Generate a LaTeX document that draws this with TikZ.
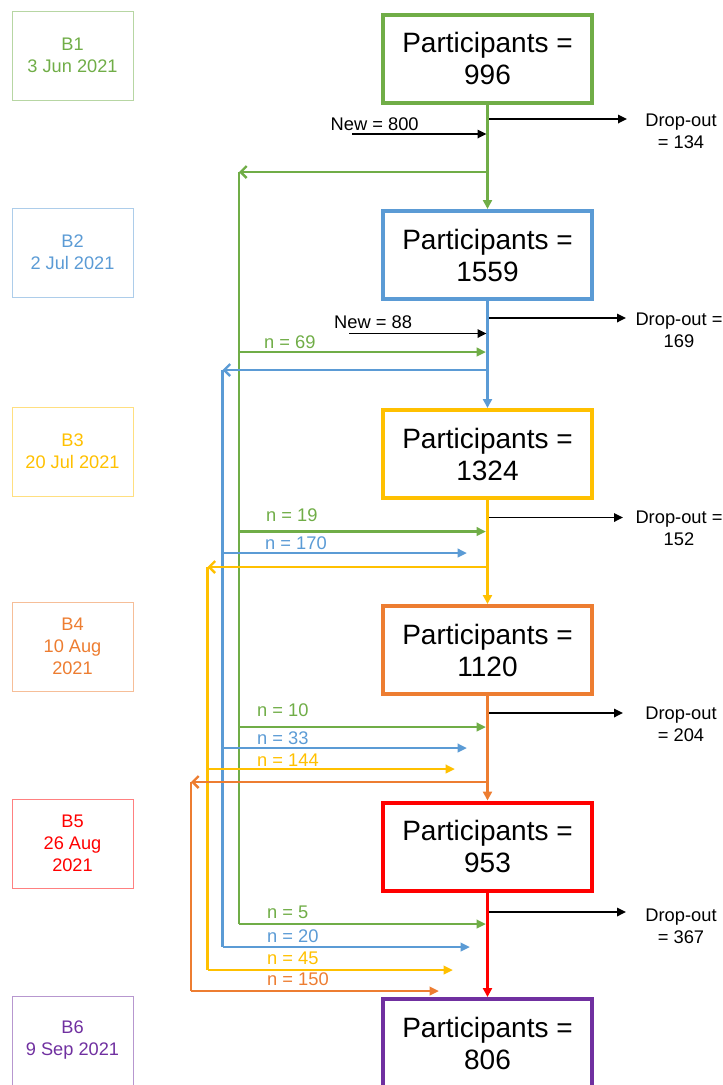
\documentclass[tikz,border=0pt]{standalone}
\usepackage{fontspec}
\setmainfont{Liberation Sans}
\usetikzlibrary{arrows.meta,calc}
\definecolor{cg}{HTML}{70AD47}
\definecolor{cb}{HTML}{5B9BD5}
\definecolor{cy}{HTML}{FFC000}
\definecolor{co}{HTML}{ED7D31}
\definecolor{cr}{HTML}{FF0000}
\definecolor{cp}{HTML}{7030A0}
\begin{document}
\begin{tikzpicture}[x=1pt,y=-1pt,
  mainbox/.style={draw, line width=4pt, minimum width=209pt, minimum height=88pt, align=center, inner sep=0pt, font=\fontsize{28}{32}\selectfont},
  datebox/.style={draw, line width=1pt, minimum width=121pt, minimum height=89pt, align=center, inner sep=0pt, font=\fontsize{18.2}{22}\selectfont},
  lbl/.style={anchor=west, inner sep=0pt, font=\fontsize{18.3}{21}\selectfont},
  dropt/.style={align=center, inner sep=0pt, font=\fontsize{18.3}{22}\selectfont},
  flow/.style={line width=2.4pt},
  dn/.style={flow, -{Triangle[length=9pt,width=9pt]}},
  back/.style={flow, -{Straight Barb[length=6pt,width=12pt]}},
  branch/.style={flow, -{Triangle[length=9.5pt,width=8.5pt]}},
  blk/.style={line width=1.7pt, black, -{Triangle[length=9pt,width=8.5pt]}}
]
\useasboundingbox (0,0) rectangle (723,1085);

% date boxes
\node[datebox, draw=cg!50, text=cg] (d1) at (72.5,55.5) {B1\\3 Jun 2021};
\node[datebox, draw=cb!50, text=cb] (d2) at (72.5,252.5) {B2\\2 Jul 2021};
\node[datebox, draw=cy!50, text=cy] (d3) at (72.5,451.5) {B3\\20 Jul 2021};
\node[datebox, draw=co!50, text=co] (d4) at (72.5,646.5) {B4\\10 Aug\\2021};
\node[datebox, draw=cr!50, text=cr] (d5) at (72.5,843.5) {B5\\26 Aug\\2021};
\node[datebox, draw=cp!50, text=cp] (d6) at (72.5,1040.5) {B6\\9 Sep 2021};

% main boxes
\node[mainbox, draw=cg] (m1) at (487.5,58.5) {Participants =\\996};
\node[mainbox, draw=cb] (m2) at (487.5,255) {Participants =\\1559};
\node[mainbox, draw=cy] (m3) at (487.5,454) {Participants =\\1324};
\node[mainbox, draw=co] (m4) at (487.5,650) {Participants =\\1120};
\node[mainbox, draw=cr] (m5) at (487.5,846.5) {Participants =\\953};
\node[mainbox, draw=cp] (m6) at (487.5,1043) {Participants =\\806};

% main downward flow
\draw[dn, cg] (m1.south) -- (m2.north);
\draw[dn, cb] (m2.south) -- (m3.north);
\draw[dn, cy] (m3.south) -- (m4.north);
\draw[dn, co] (m4.south) -- (m5.north);
\draw[dn, cr] (m5.south) -- (m6.north);

% new participants
\coordinate (n1s) at (352,134); \coordinate (n1e) at (486.5,134);
\coordinate (n2s) at (349,333.5); \coordinate (n2e) at (486.5,333.5);
\draw[blk] (n1s) -- (n1e);
\draw[blk] (n2s) -- (n2e);
\node[lbl] (new1) at (330.5,124) {New = 800};
\node[lbl] (new2) at (334,322.5) {New = 88};

% drop-outs
\coordinate (o1s) at (489,119); \coordinate (o1e) at (627,119);
\coordinate (o2s) at (489,318); \coordinate (o2e) at (626,318);
\coordinate (o3s) at (489,517.5); \coordinate (o3e) at (623,517.5);
\coordinate (o4s) at (489,713); \coordinate (o4e) at (623,713);
\coordinate (o5s) at (489,912); \coordinate (o5e) at (626,912);
\draw[blk] (o1s) -- (o1e);
\draw[blk] (o2s) -- (o2e);
\draw[blk] (o3s) -- (o3e);
\draw[blk] (o4s) -- (o4e);
\draw[blk] (o5s) -- (o5e);
\node[dropt] (do1) at (681,131) {Drop-out\\= 134};
\node[dropt] (do2) at (679,330) {Drop-out =\\169};
\node[dropt] (do3) at (679,528) {Drop-out =\\152};
\node[dropt] (do4) at (681,724.5) {Drop-out\\= 204};
\node[dropt] (do5) at (681,926) {Drop-out\\= 367};

% green returners
\coordinate (g0) at (487.5,172); \coordinate (gc) at (239,172);
\coordinate (g1) at (239,352);   \coordinate (g1e) at (486,352);
\coordinate (g2) at (239,531.5); \coordinate (g2e) at (486,531.5);
\coordinate (g3) at (239,727);   \coordinate (g3e) at (486,727);
\coordinate (g4) at (239,924);   \coordinate (g4e) at (486,924);
\draw[back, cg] (g0) -- (gc);
\draw[flow, cg] (gc) -- (g4);
\draw[branch, cg] (g1) -- (g1e);
\draw[branch, cg] (g2) -- (g2e);
\draw[branch, cg] (g3) -- (g3e);
\draw[branch, cg] (g4) -- (g4e);

% blue returners
\coordinate (b0) at (487.5,370); \coordinate (bc) at (222.5,370);
\coordinate (b1) at (222.5,553); \coordinate (b1e) at (467,553);
\coordinate (b2) at (222.5,748); \coordinate (b2e) at (467,748);
\coordinate (b3) at (222.5,947); \coordinate (b3e) at (470,947);
\draw[back, cb] (b0) -- (bc);
\draw[flow, cb] (bc) -- (b3);
\draw[branch, cb] (b1) -- (b1e);
\draw[branch, cb] (b2) -- (b2e);
\draw[branch, cb] (b3) -- (b3e);

% yellow returners
\coordinate (y0) at (487.5,567); \coordinate (yc) at (207.5,567);
\coordinate (y1) at (207.5,769); \coordinate (y1e) at (455,769);
\coordinate (y2) at (207.5,970); \coordinate (y2e) at (453,970);
\draw[back, cy] (y0) -- (yc);
\draw[flow, cy] (yc) -- (y2);
\draw[branch, cy] (y1) -- (y1e);
\draw[branch, cy] (y2) -- (y2e);

% orange returners
\coordinate (r0) at (487.5,782); \coordinate (rc) at (191,782);
\coordinate (r1) at (191,991);   \coordinate (r1e) at (439,991);
\draw[back, co] (r0) -- (rc);
\draw[flow, co] (rc) -- (r1);
\draw[branch, co] (r1) -- (r1e);

% labels
\node[lbl, text=cg] (l69) at (264,342) {n = 69};
\node[lbl, text=cg] (l19) at (266,515) {n = 19};
\node[lbl, text=cb] (l170) at (265,543) {n = 170};
\node[lbl, text=cg] (l10) at (257,710) {n = 10};
\node[lbl, text=cb] (l33) at (257,738) {n = 33};
\node[lbl, text=cy] (l144) at (257,760) {n = 144};
\node[lbl, text=cg] (l5) at (267,912) {n = 5};
\node[lbl, text=cb] (l20) at (267,936) {n = 20};
\node[lbl, text=cy] (l45) at (267,958) {n = 45};
\node[lbl, text=co] (l150) at (267,979) {n = 150};
\end{tikzpicture}
\end{document}
